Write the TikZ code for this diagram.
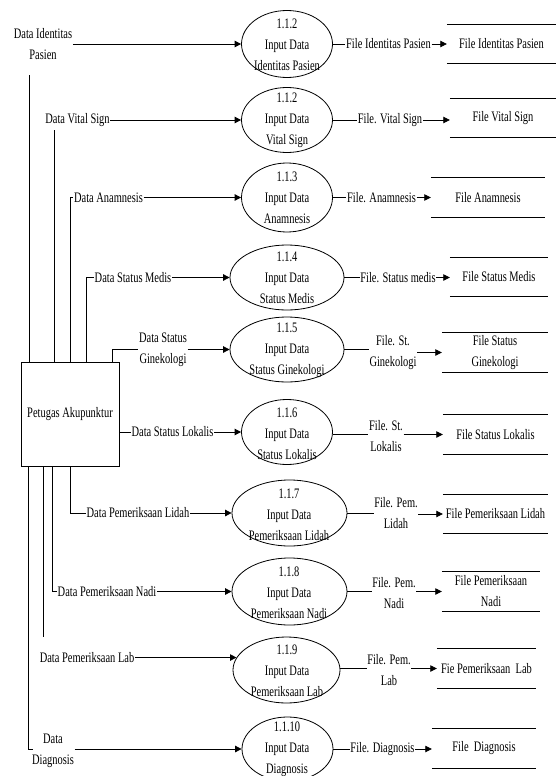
\documentclass[tikz,border=0pt]{standalone}
\usepackage{fontspec}
\setmainfont{Liberation Serif}[FakeStretch=0.72]
\usetikzlibrary{arrows.meta,shapes.geometric}
\begin{document}
\begin{tikzpicture}[x=1pt,y=-1pt,
  every node/.style={font=\fontsize{14.5}{21}\selectfont, inner sep=0.5pt, align=center},
  proc/.style={draw, ellipse, line width=0.8pt, inner sep=0pt},
  ln/.style={line width=0.8pt},
  flow/.style={line width=0.8pt, -{Triangle[length=6.5pt,width=6.5pt]}},
  store/.style={minimum height=39pt, inner sep=0pt}
]
\useasboundingbox (0,0) rectangle (556,776);

% processes
\node[proc, minimum width=91pt, minimum height=67pt] (p1) at (287,44) {};
\node (t1) at (287,44.5) {1.1.2\\Input Data\\Identitas Pasien};
\node[proc, minimum width=91pt, minimum height=65pt] (p2) at (287,120) {};
\node (t2) at (287,120.5) {1.1.2\\Input Data\\Vital Sign};
\node[proc, minimum width=91pt, minimum height=69pt] (p3) at (287,197.5) {};
\node (t3) at (287,198) {1.1.3\\Input Data\\Anamnesis};
\node[proc, minimum width=114pt, minimum height=65pt] (p4) at (287,277.5) {};
\node (t4) at (287,278) {1.1.4\\Input Data\\Status Medis};
\node[proc, minimum width=114pt, minimum height=65pt] (p5) at (287,349.5) {};
\node (t5) at (287,350) {1.1.5\\Input Data\\Status Ginekologi};
\node[proc, minimum width=91pt, minimum height=65pt] (p6) at (287,432) {};
\node (t6) at (287,434) {1.1.6\\Input Data\\Status Lokalis};
\node[proc, minimum width=115pt, minimum height=66pt] (p7) at (289.5,513) {};
\node (t7) at (289,515) {1.1.7\\Input Data\\Pemeriksaan Lidah};
\node[proc, minimum width=115pt, minimum height=67pt] (p8) at (289.5,591.5) {};
\node (t8) at (289,593) {1.1.8\\Input Data\\Pemeriksaan Nadi};
\node[proc, minimum width=107pt, minimum height=66pt] (p9) at (286.5,670) {};
\node (t9) at (287,671) {1.1.9\\Input Data\\Pemeriksaan Lab};
\node[proc, minimum width=91pt, minimum height=64pt] (p10) at (287.5,749) {};
\node (t10) at (287,749.5) {1.1.10\\Input Data\\Diagnosis};

% external entity
\node[draw, line width=0.8pt, minimum width=98pt, minimum height=104pt] (box) at (70,414) {Petugas Akupunktur};

% input flows
\node (l1) at (43,44) {Data Identitas\\Pasien};
\coordinate (v1) at (29,75);
\draw[ln] (v1 |- box.north) -- (v1);
\draw[flow] (l1.east |- p1.west) -- (p1.west);

\node (l2) at (77.5,120) {Data Vital Sign};
\coordinate (v2) at (54,130);
\draw[ln] (v2 |- box.north) -- (v2);
\draw[flow] (l2.east) -- (p2.west);

\node (l3) at (108.5,197.5) {Data Anamnesis};
\coordinate (v3) at (70,197.5);
\draw[ln] (v3 |- box.north) -- (v3) -- (l3.west);
\draw[flow] (l3.east) -- (p3.west);

\node (l4) at (133,277.5) {Data Status Medis};
\coordinate (v4) at (86,277.5);
\draw[ln] (v4 |- box.north) -- (v4) -- (l4.west);
\draw[flow] (l4.east) -- (p4.west);

\node (l5) at (163,349.5) {Data Status\\Ginekologi};
\coordinate (v5) at (112,349.5);
\draw[ln] (v5 |- box.north) -- (v5) -- (l5.west);
\draw[flow] (l5.east) -- (p5.west);

\node (l6) at (172.5,432) {Data Status Lokalis};
\draw[ln] (l6.west -| box.east) -- (l6.west);
\draw[flow] (l6.east) -- (p6.west);

\node (l7) at (138,513) {Data Pemeriksaan Lidah};
\coordinate (v7) at (70,513);
\draw[ln] (v7 |- box.south) -- (v7) -- (l7.west);
\draw[flow] (l7.east) -- (p7.west);

\node (l8) at (107,591.5) {Data Pemeriksaan Nadi};
\coordinate (v8) at (52,591.5);
\draw[ln] (v8 |- box.south) -- (v8) -- (l8.west);
\draw[flow] (l8.east) -- (p8.west);

\node (l9) at (87,657.6) {Data Pemeriksaan Lab};
\coordinate (v9) at (43,637);
\draw[ln] (v9 |- box.south) -- (v9);
\draw[flow] (l9.east |- p9.166) -- (p9.166);

\node (l10) at (53,750.5) {Data\\Diagnosis};
\coordinate (v10) at (28,749);
\coordinate (v10b) at (33,749);
\draw[ln] (v10 |- box.south) -- (v10) -- (v10b);
\draw[flow] (l10.east |- p10.west) -- (p10.west);

% data stores
\node[store, minimum width=109pt] (s1) at (501.5,44) {File Identitas Pasien};
\node[store, minimum width=106pt] (s2) at (503,118) {File Vital Sign};
\node[store, minimum width=114pt] (s3) at (488,197.5) {File Anamnesis};
\node[store, minimum width=98pt] (s4) at (499,277) {File Status Medis};
\node[store, minimum width=106pt] (s5) at (495,352.5) {File Status\\Ginekologi};
\node[store, minimum width=105pt] (s6) at (495.5,434.5) {File Status Lokalis};
\node[store, minimum width=105pt] (s7) at (495.5,514) {File Pemeriksaan Lidah};
\node[store, minimum width=98pt] (s8) at (491,591.5) {File Pemeriksaan\\Nadi};
\node[store, minimum width=99pt] (s9) at (486.5,668.5) {Fie Pemeriksaan\ \ Lab};
\node[store, minimum width=104pt] (s10) at (484,748.5) {File\ \ Diagnosis};
\foreach \s in {s1,s2,s3,s4,s5,s6,s7,s8,s9,s10}{
  \draw[ln] (\s.north west) -- (\s.north east) (\s.south west) -- (\s.south east);
}

% output flows
\node (r1) at (388.5,44) {File Identitas Pasien};
\draw[ln] (p1.east) -- (r1.west);
\draw[flow] (r1.east) -- (s1.west);

\node (r2) at (390,120) {File. Vital Sign};
\draw[ln] (p2.east) -- (r2.west);
\draw[flow] (r2.east) -- (s2.west |- r2.east);

\node (r3) at (381.5,197.5) {File. Anamnesis};
\draw[ln] (p3.east) -- (r3.west);
\draw[flow] (r3.east) -- (s3.west);

\node (r4) at (398,277.5) {File. Status medis};
\draw[ln] (p4.east) -- (r4.west);
\draw[flow] (r4.east) -- (s4.west |- r4.east);

\node (r5) at (393,352.5) {File. St.\\Ginekologi};
\draw[ln] (p5.east) -- (r5.west |- p5.east);
\draw[flow] (r5.east) -- (s5.west);

\node (r6) at (386,436) {File. St.\\Lokalis};
\draw[ln] (p6.east |- s6.west) -- (r6.west |- s6.west);
\draw[flow] (r6.east |- s6.west) -- (s6.west);

\node (r7) at (396,513.5) {File. Pem.\\Lidah};
\draw[ln] (p7.east) -- (r7.west |- p7.east);
\draw[flow] (r7.east |- s7.west) -- (s7.west);

\node (r8) at (394,593) {File. Pem.\\Nadi};
\draw[ln] (p8.east) -- (r8.west |- p8.east);
\draw[flow] (r8.east |- s8.west) -- (s8.west);

\node (r9) at (389,670) {File. Pem.\\Lab};
\draw[ln] (p9.east |- s9.west) -- (r9.west |- s9.west);
\draw[flow] (r9.east |- s9.west) -- (s9.west);

\node (r10) at (382.5,749) {File. Diagnosis};
\draw[ln] (p10.east) -- (r10.west);
\draw[flow] (r10.east) -- (s10.west |- r10.east);
\end{tikzpicture}
\end{document}
